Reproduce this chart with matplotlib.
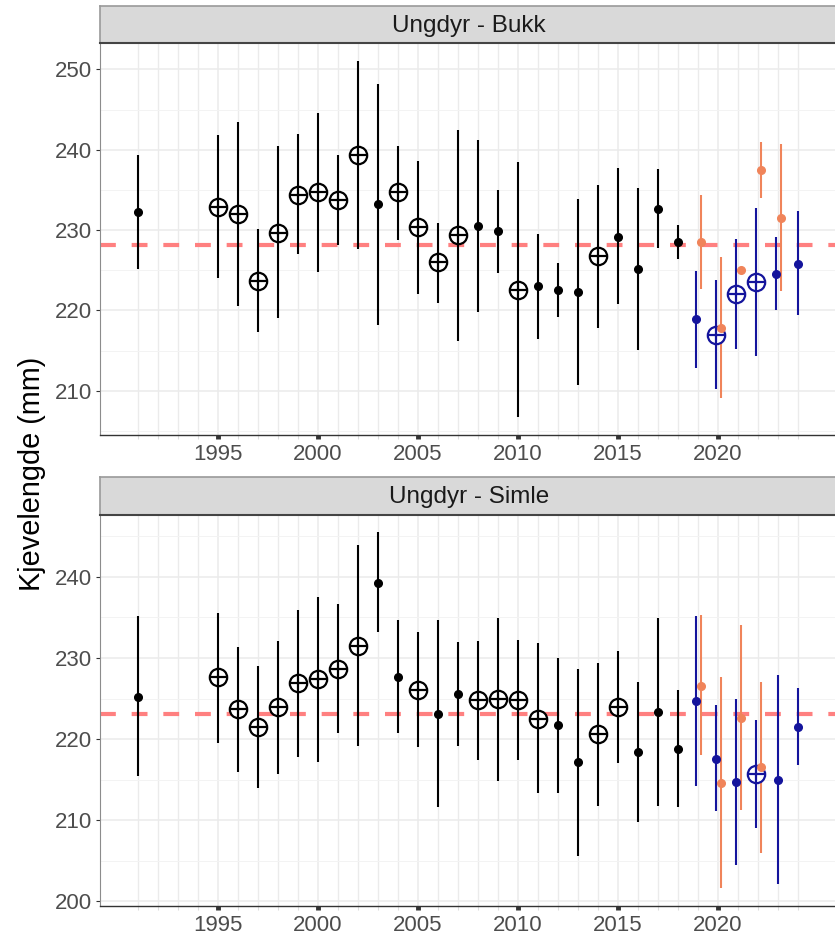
import numpy as np
import matplotlib
matplotlib.use("Agg")
import matplotlib.pyplot as plt
from matplotlib.ticker import MultipleLocator, FixedLocator

plt.rcParams['font.family'] = ['Liberation Sans', 'DejaVu Sans']

# years
years_black = [1991] + list(range(1995, 2019))
years_blue = [2019, 2020, 2021, 2022, 2023, 2024]

# Ungdyr - Bukk
bukk_mean = [232.2, 232.9, 232.0, 223.7, 229.7, 234.4, 234.7, 233.7, 239.4, 233.2, 234.7, 230.4, 226.0,
             229.4, 230.5, 229.9, 222.5, 223.0, 222.5, 222.3, 226.75, 229.2, 225.1, 232.65, 228.5]
bukk_lo = [225.1, 224.1, 220.6, 217.3, 219.1, 227.05, 224.8, 228.1, 227.7, 218.2, 228.8, 222.1, 220.9,
           216.2, 219.8, 224.7, 206.7, 216.5, 219.2, 210.7, 217.8, 220.85, 215.05, 227.8, 226.4]
bukk_hi = [239.4, 241.8, 243.4, 230.1, 240.45, 241.9, 244.6, 239.3, 251.0, 248.2, 240.5, 238.6, 230.9,
           242.4, 241.2, 235.05, 238.5, 229.5, 225.9, 233.9, 235.6, 237.75, 235.3, 237.6, 230.6]
bukk_big = [0, 1, 1, 1, 1, 1, 1, 1, 1, 0, 1, 1, 1, 1, 0, 0, 1, 0, 0, 0, 1, 0, 0, 0, 0]

bukk_blue_mean = [218.9, 217.0, 222.0, 223.55, 224.55, 225.8]
bukk_blue_lo = [212.9, 210.2, 215.2, 214.4, 220.0, 219.4]
bukk_blue_hi = [224.9, 223.85, 228.9, 232.8, 229.2, 232.35]
bukk_blue_big = [0, 1, 1, 1, 0, 0]

bukk_orange_years = [2019, 2020, 2021, 2022, 2023]
bukk_orange_mean = [228.5, 217.8, 225.0, 237.5, 231.5]
bukk_orange_lo = [222.7, 209.1, np.nan, 234.0, 222.4]
bukk_orange_hi = [234.4, 226.7, np.nan, 241.0, 240.65]

bukk_ref = 228.1

# Ungdyr - Simle
simle_mean = [225.2, 227.6, 223.7, 221.5, 224.0, 226.9, 227.45, 228.7, 231.5, 239.3, 227.65, 226.1, 223.1,
              225.6, 224.8, 224.9, 224.8, 222.5, 221.7, 217.2, 220.6, 224.0, 218.4, 223.3, 218.8]
simle_lo = [215.5, 219.5, 215.9, 214.0, 215.7, 217.85, 217.2, 220.8, 219.2, 233.2, 220.7, 219.0, 211.6,
            219.2, 217.4, 214.85, 217.4, 213.3, 213.3, 205.6, 211.8, 217.1, 209.8, 211.8, 211.65]
simle_hi = [235.2, 235.6, 231.4, 229.0, 232.1, 235.9, 237.5, 236.6, 243.9, 245.5, 234.75, 233.2, 234.7,
            232.0, 232.1, 234.9, 232.2, 231.9, 230.0, 228.7, 229.4, 230.85, 227.1, 234.9, 226.05]
simle_big = [0, 1, 1, 1, 1, 1, 1, 1, 1, 0, 0, 1, 0, 0, 1, 1, 1, 1, 0, 0, 1, 1, 0, 0, 0]

simle_blue_mean = [224.7, 217.6, 214.7, 215.75, 215.0, 221.5]
simle_blue_lo = [214.2, 211.2, 204.5, 209.1, 202.2, 216.8]
simle_blue_hi = [235.2, 224.2, 224.9, 222.4, 227.9, 226.3]
simle_blue_big = [0, 0, 0, 1, 0, 0]

simle_orange_years = [2019, 2020, 2021, 2022]
simle_orange_mean = [226.6, 214.55, 222.6, 216.6]
simle_orange_lo = [218.05, 201.6, 211.3, 205.95]
simle_orange_hi = [235.3, 227.6, 234.1, 227.1]

simle_ref = 223.1

BLUE = '#14149c'
ORANGE = '#f0845a'
W, H = 835, 938


def draw_points(ax, x, mean, lo, hi, big, color):
    x = np.asarray(x, float)
    mean = np.asarray(mean, float)
    big = np.asarray(big, bool)
    ax.vlines(x, lo, hi, color=color, lw=1.5, zorder=3)
    ax.plot(x[~big], mean[~big], 'o', color=color, ms=5.5, zorder=4)
    ax.plot(x[big], mean[big], 'o', mfc='white', mec=color, ms=12.5, mew=1.6, zorder=4)
    ax.plot(x[big], mean[big], '+', color=color, ms=12.5, mew=1.6, zorder=5)


def panel(top_px, title, mean, lo, hi, big, bmean, blo, bhi, bbig, oyears, omean, olo, ohi, ref):
    strip_h = 37.5
    plot_h = 391.7
    left = 100 / W
    width = 738 / W
    ax = plt.axes([left, 1 - (top_px + strip_h + plot_h) / H, width, plot_h / H])
    strip = plt.axes([left, 1 - (top_px + strip_h) / H, width, strip_h / H])

    draw_points(ax, years_black, mean, lo, hi, big, 'black')
    # blue and orange share a year slot when both exist
    bx = [y - 0.1 if y in oyears else y for y in years_blue]
    ox = [y + 0.14 for y in oyears]
    draw_points(ax, bx, bmean, blo, bhi, bbig, BLUE)
    draw_points(ax, ox, omean, olo, ohi, [0] * len(oyears), ORANGE)

    ax.axhline(ref, color='#ff8080', lw=3, ls=(0, (3.8, 3.8)), zorder=2)

    allv = np.concatenate([lo, hi, blo, bhi, olo, ohi])
    vmin, vmax = np.nanmin(allv), np.nanmax(allv)
    pad = 0.05 * (vmax - vmin)
    ax.set_ylim(vmin - pad, vmax + pad)
    ax.set_xlim(1989.1, 2026.0)

    ax.xaxis.set_major_locator(FixedLocator(range(1995, 2021, 5)))
    ax.xaxis.set_minor_locator(FixedLocator([y for y in range(1991, 2025) if y % 5 != 0]))
    ax.yaxis.set_major_locator(MultipleLocator(10))
    ax.yaxis.set_minor_locator(MultipleLocator(5))
    ax.grid(which='major', color='#ebebeb', lw=1.1, zorder=0)
    ax.grid(which='minor', axis='x', color='#ebebeb', lw=1.0, zorder=0)
    ax.grid(which='minor', axis='y', color='#f3f3f3', lw=0.7, zorder=0)
    ax.set_axisbelow(True)

    ax.tick_params(axis='x', which='major', length=3, width=3.5, color='#333333',
                   labelsize=16, labelcolor='#4d4d4d', pad=3)
    ax.tick_params(axis='x', which='minor', length=3, width=0.8, color='#dddddd')
    ax.tick_params(axis='y', which='major', length=3, width=0.8, color='#333333',
                   labelsize=16, labelcolor='#4d4d4d', pad=3)
    ax.tick_params(axis='y', which='minor', length=0)

    ax.spines['left'].set_color('#8c8c8c')
    ax.spines['bottom'].set_color('#333333')
    ax.spines['bottom'].set_linewidth(1.0)
    ax.spines['top'].set_visible(False)
    ax.spines['right'].set_visible(False)

    strip.set_facecolor('#d9d9d9')
    strip.set_xticks([])
    strip.set_yticks([])
    for s in ['top', 'left', 'right']:
        strip.spines[s].set_color('#9a9a9a')
        strip.spines[s].set_linewidth(1.2)
    strip.spines['bottom'].set_color('#444444')
    strip.spines['bottom'].set_linewidth(1.5)
    strip.text(0.5, 0.47, title, ha='center', va='center', fontsize=17.5, color='#1a1a1a',
               transform=strip.transAxes)
    return ax


fig = plt.figure(figsize=(W / 100, H / 100), dpi=100)

panel(6, 'Ungdyr - Bukk', bukk_mean, bukk_lo, bukk_hi, bukk_big,
      bukk_blue_mean, bukk_blue_lo, bukk_blue_hi, bukk_blue_big,
      bukk_orange_years, bukk_orange_mean, bukk_orange_lo, bukk_orange_hi, bukk_ref)
panel(477, 'Ungdyr - Simle', simle_mean, simle_lo, simle_hi, simle_big,
      simle_blue_mean, simle_blue_lo, simle_blue_hi, simle_blue_big,
      simle_orange_years, simle_orange_mean, simle_orange_lo, simle_orange_hi, simle_ref)

fig.text(32 / W, 1 - 474 / H, 'Kjevelengde (mm)', rotation=90, ha='center', va='center',
         fontsize=20.8, color='black')

fig.savefig('out.png', dpi=100)
